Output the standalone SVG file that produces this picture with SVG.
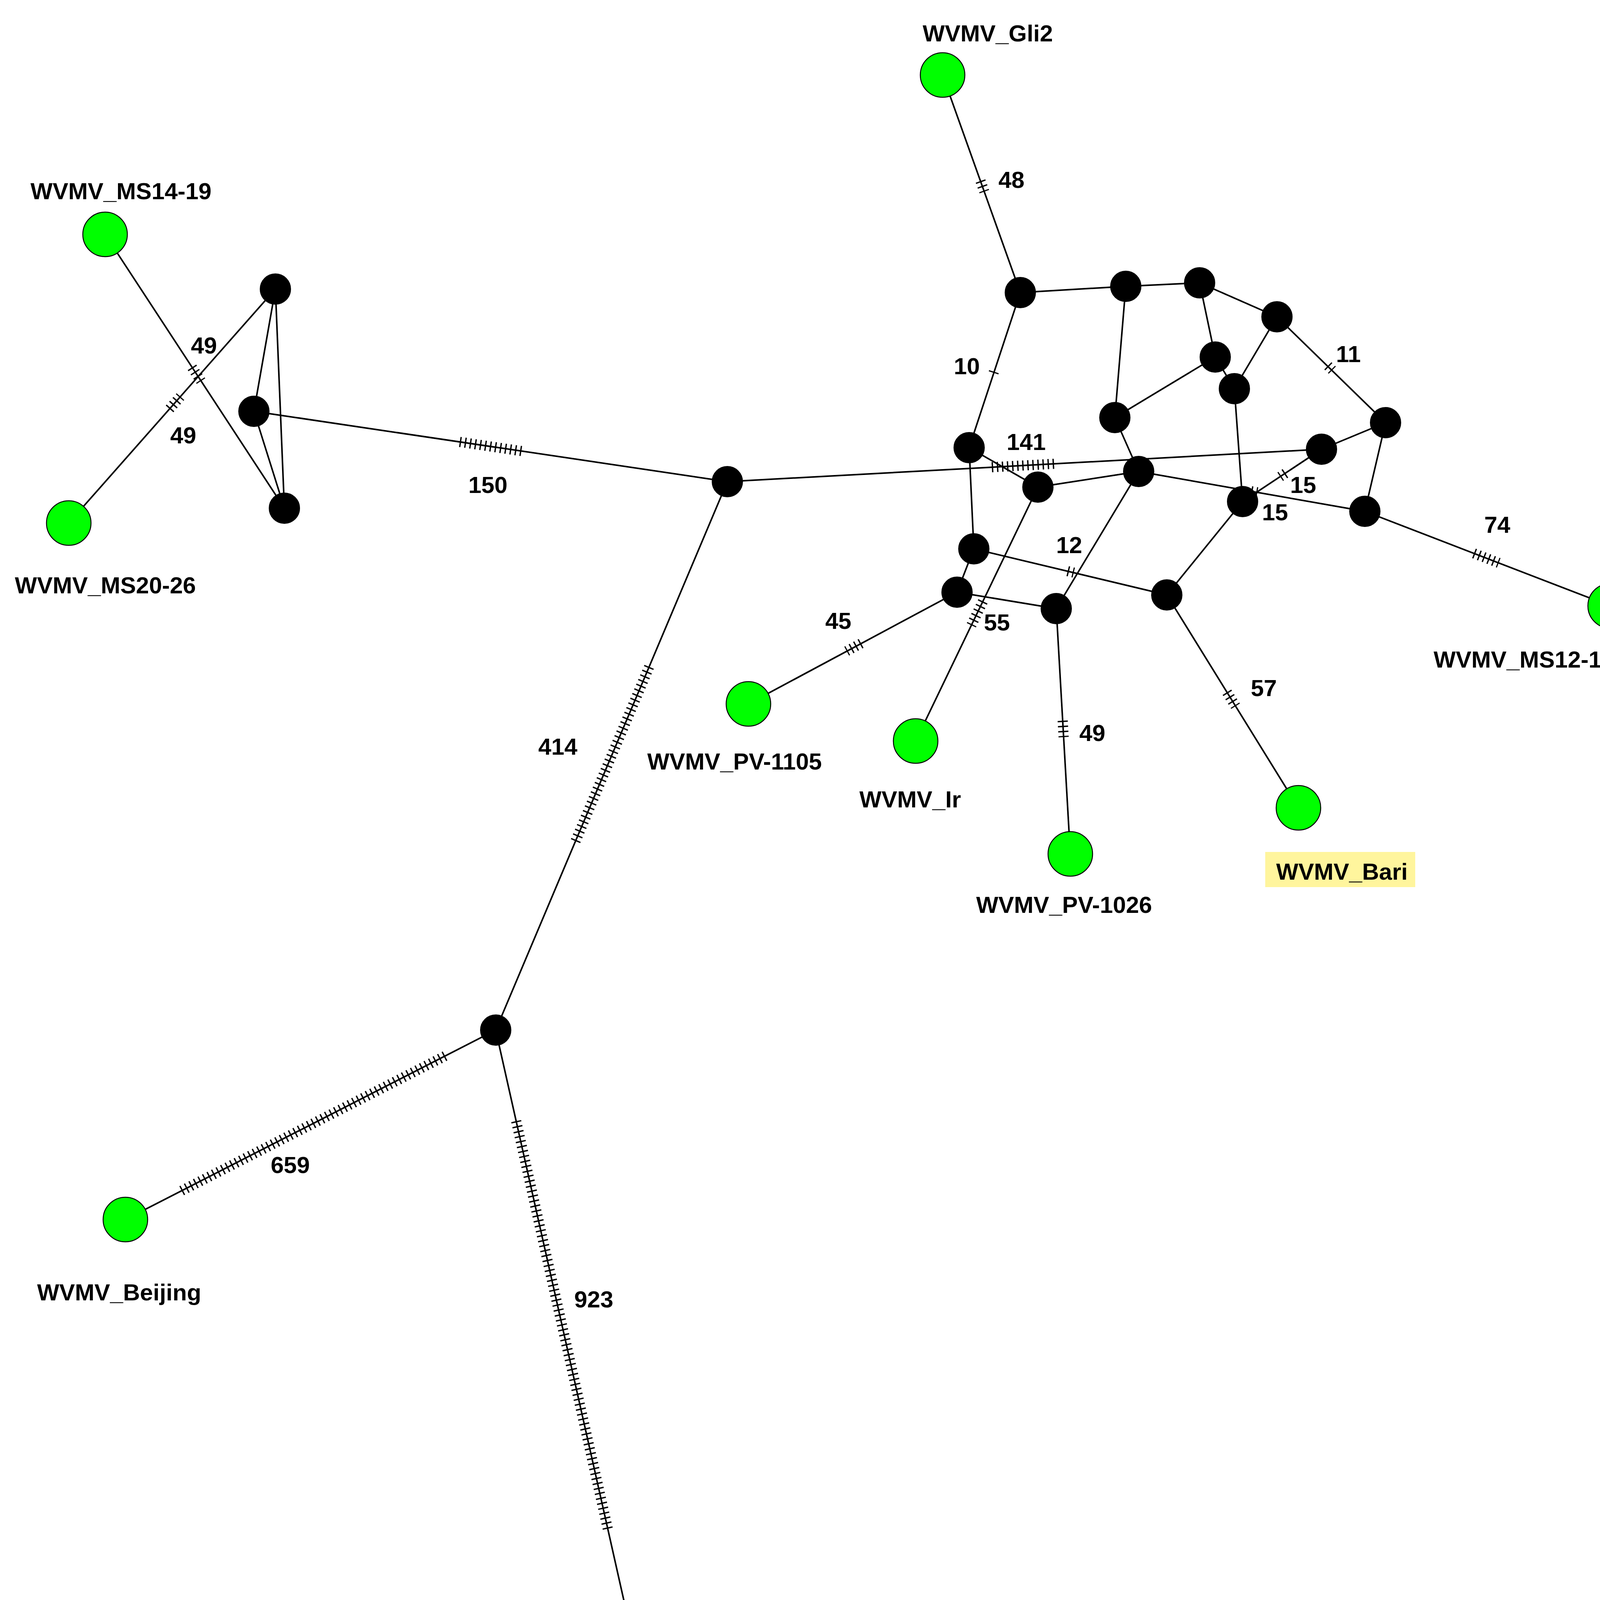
<svg xmlns="http://www.w3.org/2000/svg" width="4228" height="5570" viewBox="0 0 4228 5570">
<style>
.e{stroke:#000;stroke-width:4;fill:none}
.t{stroke:#000;stroke-width:26;stroke-dasharray:3.5 9.5;fill:none}
.b{fill:#000;stroke:#000;stroke-width:2}
.g{fill:#00FF00;stroke:#000;stroke-width:2.5}
.r{fill:#FF0000;stroke:#000;stroke-width:2.5}
text{font-family:"Liberation Sans",Arial,sans-serif;font-weight:bold;font-size:60px;fill:#000}
.m{text-anchor:middle}
</style>
<rect width="4228" height="5570" fill="#fff"/>
<g id="connectors">
<line class="e" x1="2413" y1="192" x2="2612" y2="749"/>
<line class="e" x1="2612" y1="749" x2="2882" y2="733"/>
<line class="e" x1="2882" y1="733" x2="3071" y2="724"/>
<line class="e" x1="3071" y1="724" x2="3269" y2="811"/>
<line class="e" x1="3071" y1="724" x2="3111" y2="914"/>
<line class="e" x1="3111" y1="914" x2="2854" y2="1069"/>
<line class="e" x1="2882" y1="733" x2="2854" y2="1069"/>
<line class="e" x1="3269" y1="811" x2="3160" y2="995"/>
<line class="e" x1="3111" y1="914" x2="3160" y2="995"/>
<line class="e" x1="3269" y1="811" x2="3547" y2="1082"/>
<line class="e" x1="3547" y1="1082" x2="3383" y2="1150"/>
<line class="e" x1="3547" y1="1082" x2="3494" y2="1309"/>
<line class="e" x1="3160" y1="995" x2="3181" y2="1284"/>
<line class="e" x1="2612" y1="749" x2="2481" y2="1146"/>
<line class="e" x1="2481" y1="1146" x2="2657" y2="1247"/>
<line class="e" x1="1862" y1="1233" x2="3383" y2="1150"/>
<line class="e" x1="2854" y1="1069" x2="2915" y2="1207"/>
<line class="e" x1="2657" y1="1247" x2="2915" y2="1207"/>
<line class="e" x1="2915" y1="1207" x2="3494" y2="1309"/>
<line class="e" x1="3383" y1="1150" x2="3181" y2="1284"/>
<line class="e" x1="2481" y1="1146" x2="2493" y2="1405"/>
<line class="e" x1="2493" y1="1405" x2="2450" y2="1516"/>
<line class="e" x1="2493" y1="1405" x2="2987" y2="1523"/>
<line class="e" x1="2450" y1="1516" x2="2704" y2="1558"/>
<line class="e" x1="2915" y1="1207" x2="2704" y2="1558"/>
<line class="e" x1="2657" y1="1247" x2="2344" y2="1897"/>
<line class="e" x1="3181" y1="1284" x2="2987" y2="1523"/>
<line class="e" x1="2987" y1="1523" x2="3324" y2="2068"/>
<line class="e" x1="2704" y1="1558" x2="2740" y2="2186"/>
<line class="e" x1="2450" y1="1516" x2="1916" y2="1802"/>
<line class="e" x1="3494" y1="1309" x2="4122" y2="1551"/>
<line class="e" x1="269" y1="600" x2="728" y2="1301"/>
<line class="e" x1="176" y1="1339" x2="705" y2="740"/>
<line class="e" x1="705" y1="740" x2="650" y2="1053"/>
<line class="e" x1="705" y1="740" x2="728" y2="1301"/>
<line class="e" x1="650" y1="1053" x2="728" y2="1301"/>
<line class="e" x1="650" y1="1053" x2="1862" y2="1233"/>
<line class="e" x1="1862" y1="1233" x2="1269" y2="2637"/>
<line class="e" x1="1269" y1="2637" x2="321" y2="3122"/>
<line class="e" x1="1269" y1="2637" x2="1611" y2="4159"/>
<line class="e" x1="1611" y1="4159" x2="1129" y2="4796"/>
<line class="e" x1="1611" y1="4159" x2="2393" y2="4718"/>
<line class="e" x1="1129" y1="4796" x2="486" y2="4703"/>
<line class="e" x1="1129" y1="4796" x2="1038" y2="5464"/>
<!-- ticks -->
<line class="t" x1="2544.5" y1="951.5" x2="2543.5" y2="954.5"/>
<line class="t" x1="3399.3" y1="936.4" x2="3410.7" y2="947.6"/>
<line class="t" x1="2733.2" y1="1462.1" x2="2748.8" y2="1465.9"/>
<line class="t" x1="3290.7" y1="1211.6" x2="3277.3" y2="1220.4"/>
<line class="t" x1="3203.1" y1="1257.6" x2="3218.9" y2="1260.4"/>
<line class="t" x1="2510.1" y1="463.3" x2="2519.9" y2="490.7"/>
<line class="t" x1="2204.5" y1="1647.1" x2="2167.5" y2="1666.9"/>
<line class="t" x1="2720.5" y1="1845" x2="2722.9" y2="1887"/>
<line class="t" x1="3141" y1="1772.2" x2="3163" y2="1807.8"/>
<line class="t" x1="2516.3" y1="1539.4" x2="2486.7" y2="1600.6"/>
<line class="t" x1="3773.3" y1="1416.6" x2="3836.7" y2="1441"/>
<line class="t" x1="491.5" y1="940.4" x2="514.5" y2="975.6"/>
<line class="t" x1="434.1" y1="1046.8" x2="461.9" y2="1015.3"/>
<line class="t" x1="1177" y1="1131.3" x2="1344" y2="1156.1"/>
<line class="t" x1="2539" y1="1196.1" x2="2707" y2="1186.9"/>
<line class="t" x1="1661.8" y1="1707" x2="1472.2" y2="2156"/>
<line class="t" x1="465" y1="3048.3" x2="1140" y2="2703"/>
<line class="t" x1="1321.4" y1="2870" x2="1557.5" y2="3921"/>
<line class="t" x1="1487.5" y1="4322" x2="1258.3" y2="4625"/>
<line class="t" x1="1720" y1="4238.4" x2="2280" y2="4637.5"/>
<line class="t" x1="659" y1="4728" x2="968" y2="4772.7"/>
<line class="t" x1="1105.3" y1="4970" x2="1062.4" y2="5285"/>
<!-- edge labels -->
<text class="m" x="522" y="905">49</text>
<text class="m" x="469" y="1135">49</text>
<text class="m" x="1249" y="1262">150</text>
<text class="m" x="1428" y="1932">414</text>
<text class="m" x="743" y="3003">659</text>
<text x="1470" y="3347">923</text>
<text class="m" x="1253" y="4427">319</text>
<text class="m" x="2095" y="4390">583</text>
<text class="m" x="770" y="4868">269</text>
<text class="m" x="1166" y="5180">273</text>
<text x="2556" y="481">48</text>
<text class="m" x="2475" y="958">10</text>
<text class="m" x="2627" y="1152">141</text>
<text class="m" x="3452" y="927">11</text>
<text class="m" x="3336" y="1262">15</text>
<text class="m" x="3264" y="1332">15</text>
<text class="m" x="3833" y="1364">74</text>
<text class="m" x="2737" y="1416">12</text>
<text class="m" x="2552" y="1614">55</text>
<text class="m" x="2146" y="1610">45</text>
<text x="2763" y="1897">49</text>
<text x="3202" y="1782">57</text>
</g>
<g id="med">
<circle class="b" cx="2612" cy="749" r="39"/><circle class="b" cx="2882" cy="733" r="39"/>
<circle class="b" cx="3071" cy="724" r="39"/><circle class="b" cx="3269" cy="811" r="39"/>
<circle class="b" cx="3111" cy="914" r="39"/><circle class="b" cx="3160" cy="995" r="39"/>
<circle class="b" cx="2854" cy="1069" r="39"/><circle class="b" cx="3547" cy="1082" r="39"/>
<circle class="b" cx="3383" cy="1150" r="39"/><circle class="b" cx="2481" cy="1146" r="39"/>
<circle class="b" cx="2657" cy="1247" r="39"/><circle class="b" cx="2915" cy="1207" r="39"/>
<circle class="b" cx="3181" cy="1284" r="39"/><circle class="b" cx="3494" cy="1309" r="39"/>
<circle class="b" cx="2493" cy="1405" r="39"/><circle class="b" cx="2450" cy="1516" r="39"/>
<circle class="b" cx="2704" cy="1558" r="39"/><circle class="b" cx="2987" cy="1523" r="39"/>
<circle class="b" cx="705" cy="740" r="39"/><circle class="b" cx="650" cy="1053" r="39"/>
<circle class="b" cx="728" cy="1301" r="39"/><circle class="b" cx="1862" cy="1233" r="39"/>
<circle class="b" cx="1269" cy="2637" r="39"/><circle class="b" cx="1611" cy="4159" r="39"/>
<circle class="b" cx="1129" cy="4796" r="39"/>
</g>
<g id="n-gli2"><circle class="g" cx="2413" cy="192" r="57"/><text x="2362" y="106">WVMV_Gli2</text></g>
<g id="n-ms1419"><circle class="g" cx="269" cy="600" r="57"/><text x="78" y="510">WVMV_MS14-19</text></g>
<g id="n-ms2026"><circle class="g" cx="176" cy="1339" r="57"/><text x="38" y="1519">WVMV_MS20-26</text></g>
<g id="n-pv1105"><circle class="g" cx="1916" cy="1802" r="57"/><text x="1657" y="1970">WVMV_PV-1105</text></g>
<g id="n-ir"><circle class="g" cx="2344" cy="1897" r="57"/><text x="2200" y="2067">WVMV_Ir</text></g>
<g id="n-pv1026"><circle class="g" cx="2740" cy="2186" r="57"/><text x="2499" y="2337">WVMV_PV-1026</text></g>
<g id="n-bari"><circle class="g" cx="3324" cy="2068" r="57"/><rect x="3239" y="2181" width="384" height="90" fill="#FFF59D"/><text x="3267" y="2252">WVMV_Bari</text></g>
<g id="n-ms1211"><circle class="g" cx="4122" cy="1551" r="57"/><text x="3670" y="1709">WVMV_MS12-11</text></g>
<g id="n-beijing"><circle class="g" cx="321" cy="3122" r="57"/><text x="95" y="3329">WVMV_Beijing</text></g>
<g id="n-jebu"><circle class="r" cx="486" cy="4703" r="57"/><text x="450" y="4575">WVMV_JEBU-p</text></g>
<g id="n-cejh"><circle class="r" cx="2393" cy="4718" r="57"/><text x="2173" y="4902">WVMV_Ce-JH</text></g>
<g id="n-kud"><circle class="r" cx="1038" cy="5464" r="57"/><text x="1177" y="5480">KudCRBV_Ack01</text></g>
<g id="legend">
<circle class="g" cx="3650" cy="5311" r="45"/><text x="3726" y="5323">Wisteria</text>
<circle class="r" cx="3650" cy="5411" r="45"/><text x="3726" y="5423">Non-Wisteria</text>
</g>
</svg>
